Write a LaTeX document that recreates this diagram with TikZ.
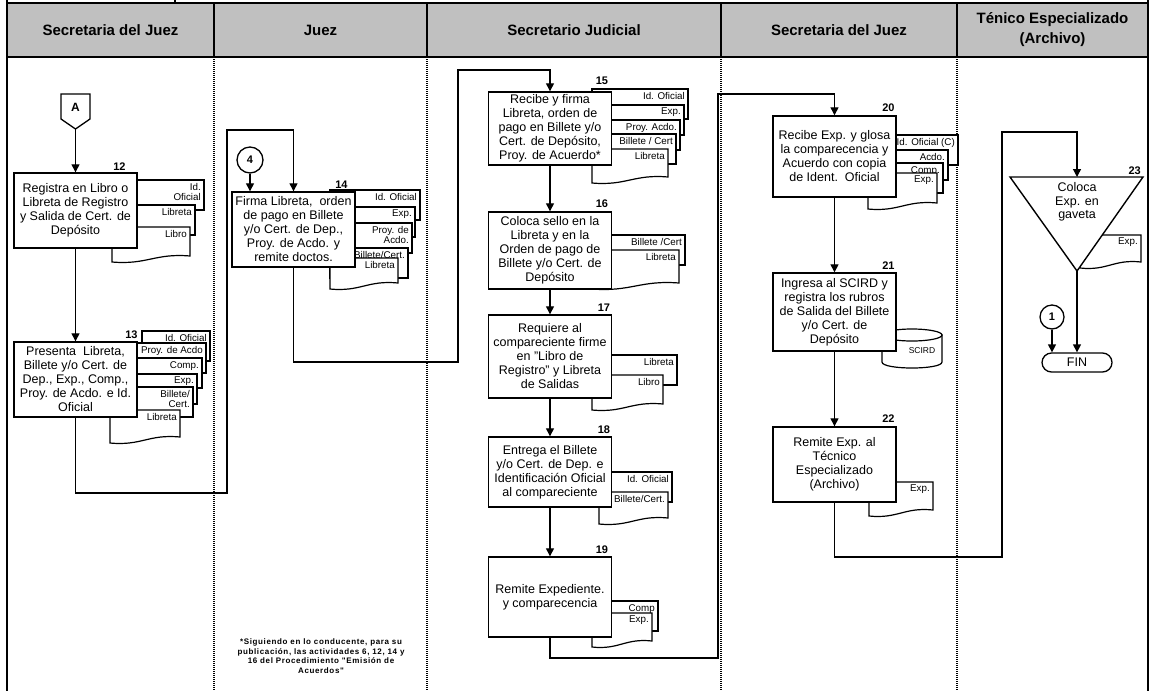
\documentclass[tikz,border=0pt]{standalone}
\usepackage{fontspec}
\setmainfont{Liberation Sans}
\newfontfamily\notefont[LetterSpace=8]{Liberation Sans}
\usetikzlibrary{arrows.meta,shapes.geometric}
\definecolor{hdrgray}{RGB}{192,192,192}

\tikzset{
  box/.style={draw, line width=1.4pt, fill=white, minimum width=123pt, align=center,
    inner sep=2pt, font=\fontsize{12.5}{14}\selectfont},
  link/.style={line width=1.3pt},
  arr/.style={link, -{Triangle[length=8pt,width=8pt]}},
  docline/.style={draw, line width=1.2pt, fill=white},
  doclbl/.style={font=\fontsize{9.8}{10.5}\selectfont, align=right, inner sep=0pt, anchor=north east},
  num/.style={font=\bfseries\fontsize{11}{12}\selectfont, inner sep=0pt, anchor=south east},
  hdr/.style={font=\bfseries\fontsize{15}{20}\selectfont, align=center},
  divider/.style={line width=1.2pt, dash pattern=on 1pt off 1pt},
  frame/.style={line width=1.3pt},
  conn/.style={draw, circle, line width=1.3pt, fill=white, inner sep=0pt,
    font=\bfseries\fontsize{11}{11}\selectfont},
}

% back sheet of a document stack: name, left, top, right, label
\newcommand\backdoc[5]{%
  \path[docline] (#2,#3) rectangle (#4,#3+30);
  \node[doclbl] (#1) at (#4-3,#3+3) {#5};}
% front sheet with wavy lower edge: name, left, top, right, bottom, label
\newcommand\frontdoc[6]{%
  \path[docline] (#2,#3) -- (#4,#3) -- (#4,#5)
    .. controls ({#2+0.55*(#4-#2)},#5-3) and ({#2+0.45*(#4-#2)},#5+9) .. (#2,#5+6) -- cycle;
  \node[doclbl] (#1) at (#4-3,#3+3) {#6};}

\begin{document}
\begin{tikzpicture}[x=1pt,y=-1pt]
\useasboundingbox (0,0) rectangle (1150,691);

% ---------- header row and lane frame ----------
\path[fill=hdrgray] (7,3) rectangle (1148,57);
\draw[frame] (7,3) -- (1148,3);
\draw[line width=1.6pt] (7,57) -- (1148,57);
\draw[frame] (7,0) -- (7,691);
\draw[frame] (1148,0) -- (1148,691);
\draw[frame] (175,0) -- (175,3);
\foreach \xx in {214,427,721,957} {
  \draw[frame] (\xx,3) -- (\xx,57);
  \draw[divider] (\xx,57) -- (\xx,691);
}
\node[hdr] (h1) at (110.5,30) {Secretaria del Juez};
\node[hdr] (h2) at (320.5,30) {Juez};
\node[hdr] (h3) at (574,30) {Secretario Judicial};
\node[hdr] (h4) at (839,30) {Secretaria del Juez};
\node[hdr] (h5) at (1052.5,30) {Ténico Especializado\\(Archivo)};

% ---------- loop-back coordinates ----------
\coordinate (L1a) at (227,493);
\coordinate (L1b) at (227,130);
\coordinate (L2a) at (458,362);
\coordinate (L2b) at (458,70);
\coordinate (L3a) at (718,658);
\coordinate (L3b) at (718,94);
\coordinate (L4a) at (1002,557);
\coordinate (L4b) at (1002,132);
\coordinate (tipA) at (75.5,129);
\coordinate (tritop) at (1077,177);
\coordinate (triapex) at (1077,271);

% ---------- off-page connector A ----------
\path[draw, line width=1.3pt, fill=white] (61,94) -- (90,94) -- (90,119) -- (tipA) -- (61,119) -- cycle;
\node[font=\bfseries\fontsize{12}{12}\selectfont] (conA) at (75.5,107) {A};

% ---------- document stacks ----------
\backdoc{d12a}{112}{180}{204}{Id.\\Oficial}
\backdoc{d12b}{112}{205}{195}{Libreta}
\frontdoc{d12c}{112}{227}{190}{256}{Libro}

\backdoc{d13a}{142}{331}{210}{Id. Oficial}
\backdoc{d13b}{112}{343}{206}{Proy. de Acdo}
\backdoc{d13c}{112}{358}{202}{Comp.}
\backdoc{d13d}{112}{374}{197}{Exp.}
\backdoc{d13e}{112}{387}{193}{Billete/\\Cert.}
\frontdoc{d13f}{110}{410}{180}{437}{Libreta}

\backdoc{d14a}{330}{190}{420}{Id. Oficial}
\backdoc{d14b}{330}{207}{415}{Exp.}
\backdoc{d14c}{330}{223}{412}{Proy. de\\Acdo.}
\backdoc{d14d}{330}{248}{408}{Billete/Cert.}
\frontdoc{d14e}{330}{258}{398}{283}{Libreta}

\backdoc{d15a}{592}{89}{688}{Id. Oficial}
\backdoc{d15b}{592}{105}{684}{Exp.}
\backdoc{d15c}{592}{120}{680}{Proy. Acdo.}
\backdoc{d15d}{592}{134}{676}{Billete / Cert}
\frontdoc{d15e}{592}{149}{668}{177}{Libreta}

\backdoc{d16a}{592}{235}{685}{Billete /Cert}
\frontdoc{d16b}{592}{250}{679}{283}{Libreta}

\backdoc{d17a}{592}{355}{677}{Libreta}
\frontdoc{d17b}{592}{375}{663}{404}{Libro}

\backdoc{d18a}{599}{472}{672}{Id. Oficial}
\frontdoc{d18b}{599}{492}{668}{518}{Billete/Cert.}

\backdoc{d19a}{592}{601}{658}{Comp}
\frontdoc{d19b}{592}{613}{652}{641}{Exp.}

\backdoc{d20a}{868}{135}{958}{Id. Oficial (C)}
\backdoc{d20b}{868}{150}{948}{Acdo.}
\backdoc{d20c}{868}{163}{943}{Comp.}
\frontdoc{d20d}{868}{173}{937}{203}{Exp.}

\frontdoc{d22a}{869}{482}{933}{510}{Exp.}

\frontdoc{d23a}{1080}{235}{1141}{262}{Exp.}

% ---------- data store (drum) ----------
\path[docline] (882,335) -- (882,362) .. controls (882,370) and (942,370) .. (942,362) -- (942,335) -- cycle;
\path[docline] (912,335) ellipse [x radius=30pt, y radius=6pt];
\node[font=\fontsize{8.5}{9}\selectfont] (scird) at (922,351) {SCIRD};

% ---------- process boxes ----------
\node[box, minimum height=75pt] (b12) at (75.5,210.5)
  {Registra en Libro o\\Libreta de Registro\\y Salida de Cert. de\\Depósito};
\node[box, minimum height=75pt] (b13) at (75.5,379.5)
  {Presenta\ \ Libreta,\\Billete y/o Cert. de\\Dep., Exp., Comp.,\\Proy. de Acdo. e Id.\\Oficial};
\node[box, minimum height=75pt] (b14) at (293.5,229.5)
  {Firma Libreta,\ \ orden\\de pago en Billete\\y/o Cert. de Dep.,\\Proy. de Acdo. y\\remite doctos.};
\node[box, minimum height=73pt] (b15) at (550,128.5)
  {Recibe y firma\\Libreta, orden de\\pago en Billete y/o\\Cert. de Depósito,\\Proy. de Acuerdo*};
\node[box, minimum height=77pt] (b16) at (550,250.5)
  {Coloca sello en la\\Libreta y en la\\Orden de pago de\\Billete y/o Cert. de\\Depósito};
\node[box, minimum height=83pt] (b17) at (550,356.5)
  {Requiere al\\compareciente firme\\en "Libro de\\Registro" y Libreta\\de Salidas};
\node[box, minimum height=70pt] (b18) at (550,472)
  {Entrega el Billete\\y/o Cert. de Dep. e\\Identificación Oficial\\al compareciente};
\node[box, minimum height=80pt] (b19) at (550,597)
  {Remite Expediente.\\y comparecencia};
\node[box, minimum height=81pt] (b20) at (834.5,156.5)
  {Recibe Exp. y glosa\\la comparecencia y\\Acuerdo con copia\\de Ident.\ \ Oficial};
\node[box, minimum height=78pt] (b21) at (834.5,312)
  {Ingresa al SCIRD y\\registra los rubros\\de Salida del Billete\\y/o Cert. de\\Depósito};
\node[box, minimum height=75pt] (b22) at (834.5,464.5)
  {Remite Exp. al\\Técnico\\Especializado\\(Archivo)};

% ---------- step numbers ----------
\node[num] (n12) at ([xshift=-12pt,yshift=2pt]b12.north east) {12};
\node[num] (n13) at ([xshift=0pt,yshift=2pt]b13.north east) {13};
\node[num] (n14) at ([xshift=-8pt,yshift=3pt]b14.north east) {14};
\node[num] (n15) at ([xshift=-4pt,yshift=6pt]b15.north east) {15};
\node[num] (n16) at ([xshift=-4pt,yshift=3pt]b16.north east) {16};
\node[num] (n17) at ([xshift=-2pt,yshift=3pt]b17.north east) {17};
\node[num] (n18) at ([xshift=-2pt,yshift=3pt]b18.north east) {18};
\node[num] (n19) at ([xshift=-4pt,yshift=3pt]b19.north east) {19};
\node[num] (n20) at ([xshift=-2pt,yshift=3pt]b20.north east) {20};
\node[num] (n21) at ([xshift=-2pt,yshift=3pt]b21.north east) {21};
\node[num] (n22) at ([xshift=-2pt,yshift=4pt]b22.north east) {22};

% ---------- connector 4 ----------
\node[conn, minimum size=26pt] (c4) at (250,160) {4};

% ---------- archive step 23 ----------
\path[draw, line width=1.4pt, fill=white] (1010,177) -- (1143,177) -- (triapex) -- cycle;
\node[font=\fontsize{12.5}{13.5}\selectfont, align=center] (t23) at (1077,202) {Coloca\\Exp. en\\gaveta};
\node[num] (n23) at (1141,175) {23};

\node[draw, line width=1.3pt, rounded corners=9.5pt, minimum width=70pt, minimum height=19pt,
  inner sep=0pt, font=\fontsize{12.5}{13}\selectfont] (fin) at (1077,362.5) {FIN};
\node[conn, minimum size=24pt] (c1) at (1052,317) {1};

% ---------- connectors ----------
\draw[arr] (tipA) -- (b12.north);
\draw[arr] (b12.south) -- (b13.north);
\draw[arr] (b13.south) |- (L1a) -- (L1b) -| (b14.north);
\draw[arr] (c4.south) -- (c4.south |- b14.north);
\draw[arr] (b14.south) |- (L2a) -- (L2b) -| (b15.north);
\draw[arr] (b15.south) -- (b16.north);
\draw[arr] (b16.south) -- (b17.north);
\draw[arr] (b17.south) -- (b18.north);
\draw[arr] (b18.south) -- (b19.north);
\draw[arr] (b19.south) |- (L3a) -- (L3b) -| (b20.north);
\draw[arr] (b20.south) -- (b21.north);
\draw[arr] (b21.south) -- (b22.north);
\draw[arr] (b22.south) |- (L4a) -- (L4b) -| (tritop);
\draw[arr] (triapex) -- (fin.north);
\draw[arr] (c1.south) -- (c1.south |- fin.north);

% ---------- footnote ----------
\node[font=\notefont\bfseries\fontsize{8}{9.7}\selectfont, align=center] (note) at (321,656)
  {*Siguiendo en lo conducente, para su\\publicación, las actividades 6, 12, 14 y\\16 del Procedimiento "Emisión de\\Acuerdos"};
\end{tikzpicture}
\end{document}
